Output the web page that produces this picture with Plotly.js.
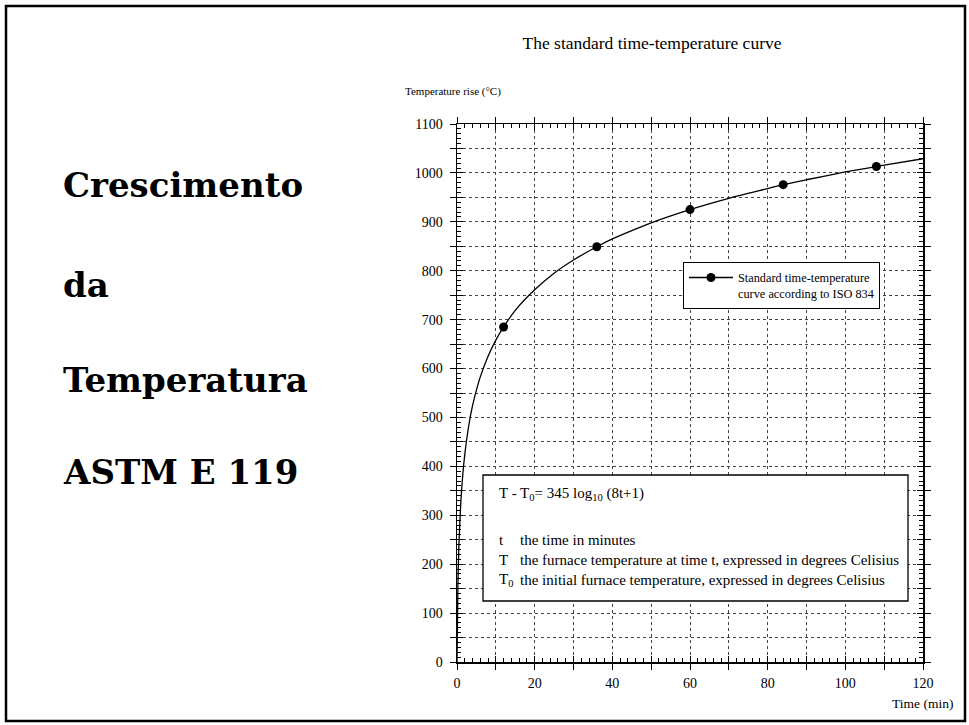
<!DOCTYPE html>
<html><head><meta charset="utf-8">
<script src="https://cdn.plot.ly/plotly-3.0.1.min.js"></script>
<style>html,body{margin:0;padding:0;background:#fff;} #chart{width:969px;height:725px;}</style>
</head><body><div id="chart"></div>
<script>
// ---- data ----
const timeMin  = [0, 0.25, 0.5, 1, 1.5, 2, 3, 4, 5, 6, 8, 10, 12, 15, 20, 25, 30, 36, 40, 45, 50, 60, 70, 80, 84, 90, 100, 108, 110, 120];
const tempRise = [0, 165, 241, 329, 384, 424, 482, 524, 556, 583, 625, 658, 685, 719, 761, 795, 822, 849, 865, 882, 898, 925, 948, 968, 976, 986, 1002, 1013, 1016, 1029];
const markerTime = [12, 36, 60, 84, 108];
const markerTemp = [685, 849, 925, 976, 1013];
const xLabelVals = [0, 20, 40, 60, 80, 100, 120];
const xMajorVals = [0, 10, 20, 30, 40, 50, 60, 70, 80, 90, 100, 110, 120];
const yLabelVals = [0, 100, 200, 300, 400, 500, 600, 700, 800, 900, 1000, 1100];
const yMajorVals = [0, 50, 100, 150, 200, 250, 300, 350, 400, 450, 500, 550, 600, 650, 700, 750, 800, 850, 900, 950, 1000, 1050, 1100];
const sideLabels = ['Crescimento', 'da', 'Temperatura', 'ASTM E 119'];
const chartTitle = 'The standard time-temperature curve';
const yTitle = 'Temperature rise (°C)';
const xTitle = 'Time (min)';
const legendName = 'Standard time-temperature<br>curve according to ISO 834';
const formulaText = 'T - T<sub>0</sub>= 345 log<sub>10</sub> (8t+1)';
const symbolTexts = ['t', 'T', 'T<sub>0</sub>'];
const symbolDescs = ['the time in minutes',
  'the furnace temperature at time t, expressed in degrees Celisius',
  'the initial furnace temperature, expressed in degrees Celisius'];

// ---- layout helpers (pixel -> paper) ----
const L = 457, R = 923, T = 124, B = 662;
const px = x => (x - L) / (R - L);
const py = y => (B - y) / (B - T);
const serif = '"Liberation Serif", "Times New Roman", serif';
const tickFont = {family: serif, size: 14, color: '#000'};

const traces = [
  {x: timeMin, y: tempRise, type: 'scatter', mode: 'lines', line: {color: '#000', width: 1.3, shape: 'spline', smoothing: 0.6},
   showlegend: false, hoverinfo: 'skip', xaxis: 'x', yaxis: 'y'},
  {x: markerTime, y: markerTemp, type: 'scatter', mode: 'markers', marker: {color: '#000', size: 9, symbol: 'circle'},
   showlegend: false, xaxis: 'x2', yaxis: 'y2'},
  {x: [null], y: [null], type: 'scatter', mode: 'lines+markers', name: legendName,
   line: {color: '#000', width: 1.3}, marker: {color: '#000', size: 9}, xaxis: 'x', yaxis: 'y'}
];

const dotGrid = {showgrid: true, gridcolor: '#444', griddash: 'dot', gridwidth: 1};
const layout = {
  width: 969, height: 725,
  margin: {l: L, r: 969 - R, t: T, b: 725 - B},
  paper_bgcolor: '#fff', plot_bgcolor: '#fff',
  font: {family: serif, color: '#000'},
  title: {text: chartTitle, font: {family: serif, size: 17.5, color: '#000'}, xref: 'container', x: 652 / 969, xanchor: 'center', yref: 'container', y: 1 - 43 / 725, yanchor: 'middle'},
  xaxis: Object.assign({range: [0, 120], tickmode: 'array', tickvals: xLabelVals,
    ticks: 'outside', ticklen: 6, tickwidth: 1, tickcolor: '#000', showline: true, linecolor: '#000', linewidth: 1.5,
    mirror: 'allticks', zeroline: false, tickfont: tickFont, ticklabelstandoff: 2,
    minor: Object.assign({tickvals: xMajorVals, ticks: 'outside', ticklen: 6, tickwidth: 1, tickcolor: '#000'}, dotGrid)}, dotGrid),
  yaxis: Object.assign({range: [0, 1100], tickmode: 'array', tickvals: yLabelVals,
    ticks: 'outside', ticklen: 6, tickwidth: 1, tickcolor: '#000', showline: true, linecolor: '#000', linewidth: 1.5,
    mirror: 'allticks', zeroline: false, tickfont: tickFont, ticklabelstandoff: 4,
    minor: Object.assign({tickvals: yMajorVals, ticks: 'outside', ticklen: 6, tickwidth: 1, tickcolor: '#000'}, dotGrid)}, dotGrid),
  xaxis2: {range: [0, 120], overlaying: 'x', anchor: 'y2', tickmode: 'array', tickvals: xMajorVals, ticks: 'inside', ticklen: 6,
    tickwidth: 1, tickcolor: '#000', showticklabels: false, showgrid: false, showline: false, zeroline: false, mirror: 'allticks',
    minor: {dtick: 2, tick0: 0, ticks: 'inside', ticklen: 4, tickwidth: 1, tickcolor: '#000', showgrid: false}},
  yaxis2: {range: [0, 1100], overlaying: 'y', anchor: 'x2', tickmode: 'array', tickvals: yMajorVals, ticks: 'inside', ticklen: 6,
    tickwidth: 1, tickcolor: '#000', showticklabels: false, showgrid: false, showline: false, zeroline: false, mirror: 'allticks',
    minor: {dtick: 10, tick0: 0, ticks: 'inside', ticklen: 4, tickwidth: 1, tickcolor: '#000', showgrid: false}},
  showlegend: true,
  legend: {x: px(683), y: py(262), xanchor: 'left', yanchor: 'top', bgcolor: '#fff', bordercolor: '#000', borderwidth: 1,
    font: {family: serif, size: 12.3, color: '#000'}, itemwidth: 44, valign: 'top', tracegroupgap: 0, entrywidth: 200},
  shapes: [
    {type: 'rect', xref: 'paper', yref: 'paper', x0: px(6), x1: px(965), y0: py(721), y1: py(6), line: {color: '#000', width: 2.5}, fillcolor: 'rgba(0,0,0,0)'},
    {type: 'rect', xref: 'paper', yref: 'paper', x0: px(483), x1: px(908), y0: py(601), y1: py(475), line: {color: '#000', width: 1.3}, fillcolor: '#fff', layer: 'above'}
  ],
  annotations: []
};

const sideY = [185, 285, 380, 472];
sideLabels.forEach((s, i) => layout.annotations.push({text: s, xref: 'paper', yref: 'paper', x: px(61), y: py(sideY[i]),
  xanchor: 'left', yanchor: 'middle', showarrow: false, font: {family: 'DejaVu Serif', size: 34, weight: 900, color: '#000'}}));
layout.annotations.push({text: yTitle, xref: 'paper', yref: 'paper', x: px(403), y: py(91), xanchor: 'left', yanchor: 'middle',
  showarrow: false, font: {family: serif, size: 11, color: '#000'}});
layout.annotations.push({text: xTitle, xref: 'paper', yref: 'paper', x: px(955), y: py(703), xanchor: 'right', yanchor: 'middle',
  showarrow: false, font: {family: serif, size: 13.5, color: '#000'}});
layout.annotations.push({text: formulaText, xref: 'paper', yref: 'paper', x: px(497), y: py(494), xanchor: 'left', yanchor: 'middle',
  showarrow: false, font: {family: serif, size: 15, color: '#000'}});
const symY = [540, 560, 580];
symbolTexts.forEach((s, i) => {
  layout.annotations.push({text: s, xref: 'paper', yref: 'paper', x: px(497), y: py(symY[i]), xanchor: 'left', yanchor: 'middle',
    showarrow: false, font: {family: serif, size: 15, color: '#000'}});
  layout.annotations.push({text: symbolDescs[i], xref: 'paper', yref: 'paper', x: px(518), y: py(symY[i]), xanchor: 'left', yanchor: 'middle',
    showarrow: false, font: {family: serif, size: 15, color: '#000'}});
});

Plotly.newPlot('chart', traces, layout, {displayModeBar: false, staticPlot: true});
</script></body></html>
